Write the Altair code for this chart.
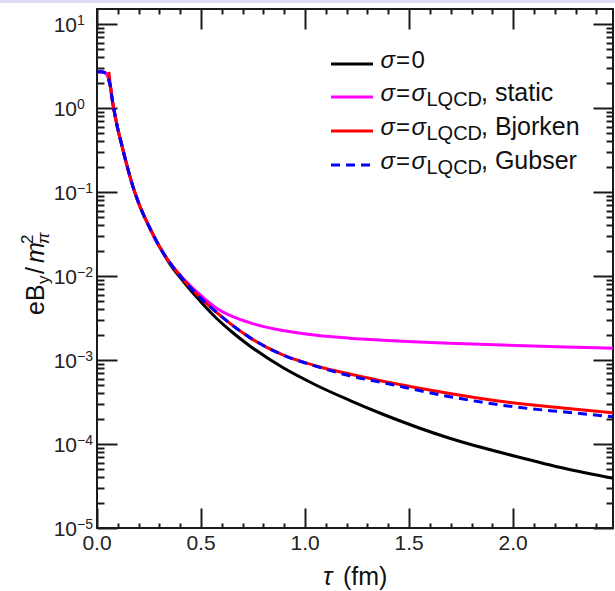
import math
import altair as alt
import pandas as pd

# ---------------- data ----------------
# shared early part (tau in fm)
tau_early = [0.0, 0.02, 0.035, 0.045, 0.052, 0.057, 0.065, 0.072]
val_early = [2.7, 2.7, 2.65, 2.55, 2.42, 2.15, 1.78, 1.32]
# red (Bjorken) starts at tau=0.057
tau_red_start = [0.057, 0.065, 0.072]
val_red_start = [2.7, 1.78, 1.32]
# common steep decrease
tau_common = [0.08, 0.09, 0.10, 0.116, 0.132, 0.15, 0.172, 0.20, 0.25, 0.30]
val_common = [1.0, 0.741, 0.562, 0.389, 0.269, 0.182, 0.1175, 0.0741, 0.0389, 0.0224]
# late part where curves separate
tau_late = [0.35, 0.40, 0.45, 0.493, 0.573, 0.65, 0.733, 0.893, 1.054, 1.214, 1.374, 1.695, 2.015, 2.25, 2.48]
black_late = [0.01396, 0.00955, 0.00676, 0.00513, 0.00316, 0.00214, 0.00148, 0.000813, 0.000501,
              0.000331, 0.000226, 0.000117, 7.1e-5, 5.1e-5, 3.9e-5]
magenta_late = [0.01445, 0.01023, 0.00759, 0.00603, 0.00417, 0.00331, 0.00279, 0.00224, 0.00197,
                0.00182, 0.00172, 0.00158, 0.00149, 0.00143, 0.00138]
red_late = [0.01445, 0.0100, 0.00724, 0.00562, 0.00372, 0.0026, 0.00186, 0.00115, 0.00085,
            0.00068, 0.00056, 0.0004, 0.000305, 0.000266, 0.000236]
blue_late = [0.01445, 0.0100, 0.00724, 0.00562, 0.00372, 0.0026, 0.00186, 0.00115, 0.00084,
             0.00065, 0.000537, 0.000366, 0.000275, 0.00024, 0.000211]

x_major = [0.0, 0.5, 1.0, 1.5, 2.0]
x_major_labels = ["0.0", "0.5", "1.0", "1.5", "2.0"]
x_minor = [0.1, 0.2, 0.3, 0.4, 0.6, 0.7, 0.8, 0.9, 1.1, 1.2, 1.3, 1.4,
           1.6, 1.7, 1.8, 1.9, 2.1, 2.2, 2.3, 2.4]
y_decades = [1e1, 1e0, 1e-1, 1e-2, 1e-3, 1e-4, 1e-5]
y_exponents = ["1", "0", "\u22121", "\u22122", "\u22123", "\u22124", "\u22125"]
y_minor_mult = [2, 3, 4, 5, 6, 7, 8, 9]

legend_labels_tail = ["", ", static", ", Bjorken", ", Gubser"]
legend_colors = ["#000000", "#ff00ff", "#ff0000", "#0000ff"]

# ---------------- layout ----------------
W, H = 516, 519
X_DOMAIN = [0, 2.48]
Y_DOMAIN = [1e-5, 15.1]
FONT = "Liberation Sans"
INK = "#1a1a1a"

rows = []
def add(name, taus, vals):
    for t, v in zip(taus, vals):
        rows.append({"series": name, "tau": t, "B": v})

add("black", tau_early + tau_common + tau_late, val_early + val_common + black_late)
add("magenta", tau_early + tau_common + tau_late, val_early + val_common + magenta_late)
add("red", tau_red_start + tau_common + tau_late, val_red_start + val_common + red_late)
add("blue", tau_early + tau_common + tau_late, val_early + val_common + blue_late)
df = pd.DataFrame(rows)

xs = alt.Scale(domain=X_DOMAIN, nice=False, zero=False)
ys = alt.Scale(type="log", domain=Y_DOMAIN, nice=False)


def line(name, color, dash=None):
    kw = dict(color=color, strokeWidth=3, interpolate="monotone", clip=True)
    if dash:
        kw["strokeDash"] = dash
    return alt.Chart(df).transform_filter(alt.datum.series == name).mark_line(**kw).encode(
        x=alt.X("tau:Q", scale=xs, axis=None),
        y=alt.Y("B:Q", scale=ys, axis=None),
    )


lines = [line("black", "#000000"), line("magenta", "#ff00ff"),
         line("red", "#ff0000"), line("blue", "#0000ff", [9, 6])]

ymin_vals = [d * m for d in y_decades[1:] for m in y_minor_mult if d * m <= Y_DOMAIN[1]]

# ---- inward ticks on all four sides, via axes shifted onto the opposite edge ----
def ax(orient, offset, values, size):
    return alt.Axis(orient=orient, offset=offset, values=values, tickSize=size, tickWidth=2,
                    tickColor=INK, labels=False, domain=False, grid=False, title=None)

tick_layers = []
for xo, yo, xv, yv, xl, yl in [
    ("top", "right", x_major, y_decades, 20, 20),
    ("top", "right", x_minor, ymin_vals, 5, 7),
    ("bottom", "left", x_major, y_decades, 20, 20),
    ("bottom", "left", x_minor, ymin_vals, 5, 7),
]:
    tick_layers.append(
        alt.Chart(df).mark_point(opacity=0, size=1).encode(
            x=alt.X("tau:Q", scale=xs, axis=ax(xo, -H, xv, xl)),
            y=alt.Y("B:Q", scale=ys, axis=ax(yo, -W, yv, yl)),
        )
    )

# tick labels
xmaj_df = pd.DataFrame({"t": x_major, "lab": x_major_labels})
ymaj_df = pd.DataFrame({"v": y_decades, "e": y_exponents})
xlab = alt.Chart(xmaj_df).mark_text(font=FONT, fontSize=21, align="center", baseline="alphabetic",
                                     color="#222").encode(
    x=alt.X("t:Q", scale=xs, axis=None), y=alt.value(H + 22), text="lab:N")
ylab10 = alt.Chart(ymaj_df).mark_text(font=FONT, fontSize=21, align="right", baseline="alphabetic",
                                       dy=8, color="#222").encode(
    y=alt.Y("v:Q", scale=ys, axis=None), x=alt.value(-20), text=alt.value("10"))
ylabexp = alt.Chart(ymaj_df).mark_text(font=FONT, fontSize=14, align="left", baseline="alphabetic",
                                        dy=1, color="#222").encode(
    y=alt.Y("v:Q", scale=ys, axis=None), x=alt.value(-20), text="e:N")

# axis titles
def txt(s, x, y, size, italic=False, angle=0):
    kw = dict(font=FONT, fontSize=size, align="left", baseline="alphabetic", color="#111")
    if italic:
        kw["fontStyle"] = "italic"
    if angle:
        kw["angle"] = angle
    return alt.Chart(pd.DataFrame({"s": [s]})).mark_text(**kw).encode(
        x=alt.value(x), y=alt.value(y), text="s:N")

titles = [
    txt("\u03c4", 226, 576, 25, italic=True),
    txt("(fm)", 246, 576, 25),
    txt("eB", -53.5, 306, 25, angle=270),
    txt("y", -48.5, 275, 17, angle=270),
    txt("/", -53.5, 265, 25, angle=270),
    txt("m", -53.5, 254, 25, italic=True, angle=270),
    txt("\u03c0", -48.5, 235, 17, italic=True, angle=270),
    txt("2", -64, 235, 17, angle=270),
]

# legend
leg_y = [55, 88, 122, 156]
leg = []
for i, (tail, col) in enumerate(zip(legend_labels_tail, legend_colors)):
    kw = dict(color=col, strokeWidth=3)
    if i == 3:
        kw["strokeDash"] = [9, 6]
    leg.append(alt.Chart(pd.DataFrame({"a": [0]})).mark_rule(**kw).encode(
        x=alt.value(234), x2=alt.value(276), y=alt.value(leg_y[i])))
    yb = leg_y[i] + 4
    leg.append(txt("\u03c3", 283.5, yb, 24, italic=True))
    leg.append(txt("=", 299, yb, 24))
    if i == 0:
        leg.append(txt("0", 314.5, yb, 24))
    else:
        leg.append(txt("\u03c3", 314.5, yb, 24, italic=True))
        leg.append(txt("LQCD", 329.5, yb + 5, 20))
        leg.append(txt(tail, 384, yb, 25))

band = alt.Chart(pd.DataFrame({"a": [0]})).mark_rect(color="#dcdcf2").encode(
    x=alt.value(-97), x2=alt.value(W + 2), y=alt.value(-9), y2=alt.value(-6))

chart = alt.layer(band, *lines, *tick_layers, xlab, ylab10, ylabexp, *titles, *leg).resolve_axis(
    x="independent", y="independent"
).properties(
    width=W, height=H,
    autosize=alt.AutoSizeParams(type="none"),
    padding={"left": 97, "top": 9, "right": 2, "bottom": 63},
    background="white",
).configure_view(stroke="#1a1a1a", strokeWidth=2)

chart.save("out.html", embed_options={"renderer": "svg", "actions": False})
